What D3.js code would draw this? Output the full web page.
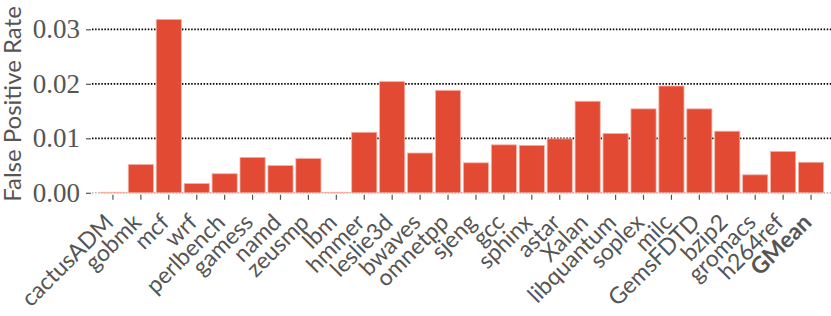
<!DOCTYPE html>
<html>
<head>
<meta charset="utf-8">
<script src="https://cdn.jsdelivr.net/npm/d3@7"></script>
<style>
  body { margin: 0; background: #fff; }
  svg { display: block; }
</style>
</head>
<body>
<div id="chart"></div>
<script>
// benchmarks, last one is the geometric mean (drawn bold)
const categories = ['cactusADM', 'gobmk', 'mcf', 'wrf', 'perlbench', 'gamess', 'namd',
  'zeusmp', 'lbm', 'hmmer', 'leslie3d', 'bwaves', 'omnetpp', 'sjeng', 'gcc', 'sphinx',
  'astar', 'Xalan', 'libquantum', 'soplex', 'milc', 'GemsFDTD', 'bzip2', 'gromacs',
  'h264ref', 'GMean'];

const falsePositiveRate = [0.0001, 0.0052, 0.0318, 0.0017, 0.0035, 0.0065, 0.0050,
  0.0063, 0.0001, 0.0111, 0.0204, 0.0073, 0.0188, 0.0055, 0.0088, 0.0087,
  0.0099, 0.0168, 0.0109, 0.0154, 0.0196, 0.0154, 0.0113, 0.0033,
  0.0076, 0.0056];

const yTicks = [0, 0.01, 0.02, 0.03];

const width = 831;
const height = 316;
const margins = { top: 0, right: 0, bottom: 123, left: 92 };

const svg = d3.select('#chart').append('svg')
  .attr('width', width)
  .attr('height', height);

const x = d3.scaleBand()
  .domain(categories)
  .range([margins.left, width + 1])
  .paddingInner(0.1)
  .paddingOuter(0.3);

// zero sits at y=192.8, 0.03 at y=29.3
const y = d3.scaleLinear()
  .domain([0, 0.03])
  .range([192.8, 29.3]);

// dotted grid
svg.append('g')
  .selectAll('line')
  .data(yTicks)
  .join('line')
  .attr('x1', margins.left)
  .attr('x2', width)
  .attr('y1', d => y(d))
  .attr('y2', d => y(d))
  .attr('stroke', d => d === 0 ? '#bbb' : '#000')
  .attr('stroke-width', 1.8)
  .attr('stroke-dasharray', '1.5,1.6');

// y axis: ticks + serif labels, no domain line
const yAxis = d3.axisLeft(y)
  .tickValues(yTicks)
  .tickFormat(d3.format('.2f'))
  .tickSizeInner(5)
  .tickSizeOuter(0)
  .tickPadding(6);

const yg = svg.append('g')
  .attr('transform', `translate(${margins.left - 1},0)`)
  .call(yAxis);
yg.select('.domain').remove();
yg.selectAll('line').attr('stroke', '#555').attr('stroke-width', 1.2);
yg.selectAll('text')
  .attr('fill', '#555')
  .style('font-family', '"Liberation Serif", serif')
  .style('font-size', '27px');

// bars
svg.append('g')
  .selectAll('rect')
  .data(categories)
  .join('rect')
  .attr('x', d => x(d))
  .attr('width', x.bandwidth())
  .attr('y', (d, i) => y(falsePositiveRate[i]))
  .attr('height', (d, i) => y(0) - y(falsePositiveRate[i]))
  .attr('fill', '#E24A33')
  .attr('stroke', '#f4b2a6')
  .attr('stroke-width', 0.8);

// x axis: small ticks below zero, labels rotated 45deg
const xAxis = d3.axisBottom(x)
  .tickSizeInner(5)
  .tickSizeOuter(0)
  .tickPadding(4);

const xg = svg.append('g')
  .attr('transform', `translate(0,${y(0) + 2})`)
  .call(xAxis);
xg.select('.domain').remove();
xg.selectAll('line').attr('stroke', '#555').attr('stroke-width', 1.2);
xg.selectAll('text')
  .attr('fill', '#555')
  .style('font-family', 'Lato, sans-serif')
  .style('font-size', '23px')
  .style('font-weight', d => d === 'GMean' ? 700 : 400)
  .style('text-anchor', 'end')
  .attr('dy', 0)
  .attr('transform', 'translate(2,29) rotate(-45)')
  .attr('y', 0)
  .attr('x', 0);

// y label
svg.append('text')
  .attr('transform', `translate(21,${104}) rotate(-90)`)
  .attr('text-anchor', 'middle')
  .attr('fill', '#555')
  .style('font-family', 'Lato, sans-serif')
  .style('font-size', '24px')
  .text('False Positive Rate');
</script>
</body>
</html>
